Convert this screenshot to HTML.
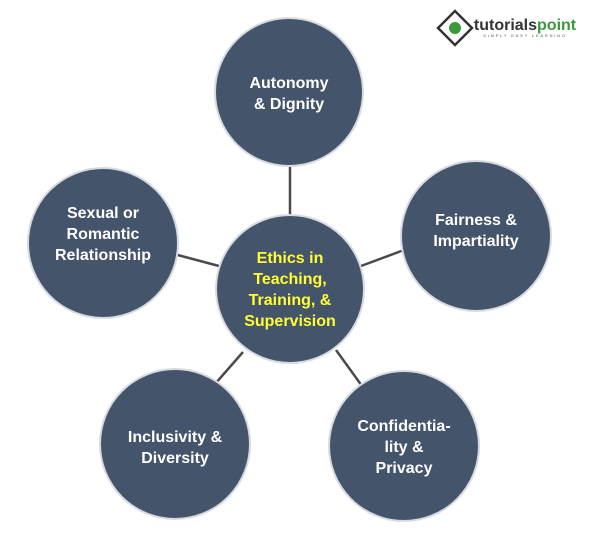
<!DOCTYPE html>
<html><head><meta charset="utf-8"><style>
body{margin:0;background:#fff;}
text{font-family:"Liberation Sans",sans-serif;font-weight:bold;font-size:16px;text-anchor:middle;}
</style></head><body>
<svg width="600" height="542" viewBox="0 0 600 542">
<g stroke="#4a4a4a" stroke-width="2.5">
<line x1="290" y1="160" x2="290" y2="216"/>
<line x1="174" y1="254" x2="219" y2="266"/>
<line x1="404" y1="250" x2="361" y2="266"/>
<line x1="243" y1="352" x2="215" y2="384"/>
<line x1="336" y1="350" x2="362" y2="386"/>
</g>
<g fill="#44546a" stroke="#d6dbe2" stroke-width="2">
<circle cx="289" cy="92" r="74"/>
<circle cx="290" cy="289" r="74"/>
<circle cx="103" cy="243" r="75"/>
<circle cx="476" cy="236" r="75"/>
<circle cx="175" cy="444" r="75"/>
<circle cx="404" cy="446" r="75"/>
</g>
<g fill="#fff">
<text x="289" y="88">Autonomy</text><text x="289" y="109">&amp; Dignity</text>
<text x="103" y="218">Sexual or</text><text x="103" y="239">Romantic</text><text x="103" y="260">Relationship</text>
<text x="476" y="225">Fairness &amp;</text><text x="476" y="246">Impartiality</text>
<text x="175" y="442">Inclusivity &amp;</text><text x="175" y="463">Diversity</text>
<text x="404" y="431">Confidentia-</text><text x="404" y="452">lity &amp;</text><text x="404" y="473">Privacy</text>
</g>
<g fill="#ffff33">
<text x="290" y="263">Ethics in</text><text x="290" y="284">Teaching,</text><text x="290" y="305">Training, &amp;</text><text x="290" y="326">Supervision</text>
</g>
<g transform="translate(455,28)">
<rect x="-12" y="-12" width="24" height="24" transform="rotate(45)" fill="#fff" stroke="#333" stroke-width="2.5"/>
<circle cx="0" cy="0" r="6" fill="#3a9a3a"/>
</g>
<text x="525" y="30" style="font-size:16px;fill:#333;">tutorials<tspan fill="#3a9a3a">point</tspan></text>
<text x="525" y="37" style="font-size:4px;fill:#555;font-weight:normal;letter-spacing:1.8px">SIMPLY EASY LEARNING</text>
</svg>
</body></html>
